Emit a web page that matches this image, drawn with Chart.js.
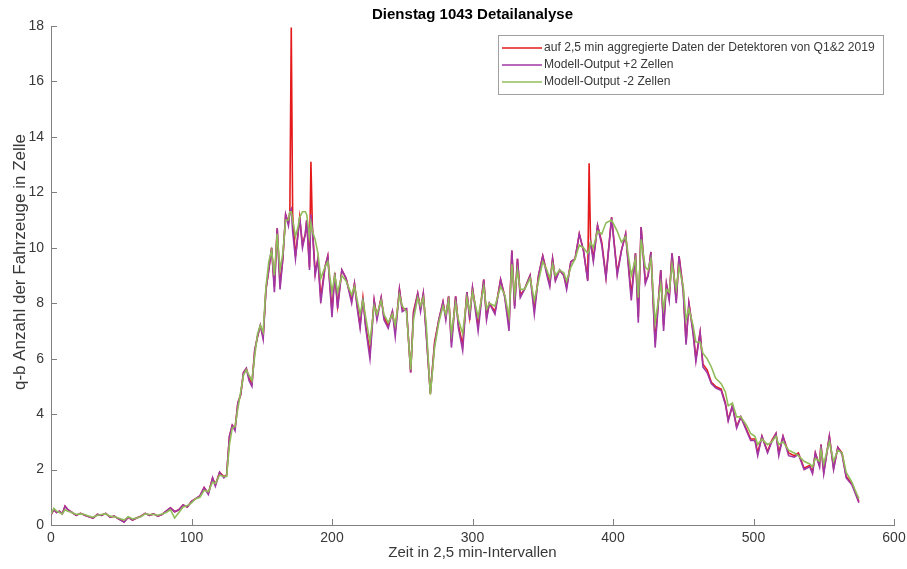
<!DOCTYPE html>
<html>
<head>
<meta charset="utf-8">
<title>Dienstag 1043 Detailanalyse</title>
<script src="https://cdn.jsdelivr.net/npm/chart.js@4"></script>
<style>
  html, body { margin: 0; padding: 0; background: #fff; }
  #detailChart { display: block; }
</style>
</head>
<body>
<canvas id="detailChart" width="907" height="569"></canvas>
<script>
// Time axis: index of the 2.5 min interval
const intervals = [
  0, 2, 4, 6, 8, 10, 12, 15, 18, 21, 24, 27, 30, 33, 36, 39, 42, 45, 48, 52, 55, 58, 61, 64, 67, 70, 73, 76, 79, 82, 85, 88, 91, 94, 97, 100,
  103, 106, 109, 112, 115, 117, 120, 123, 125, 127, 129, 131, 133, 135, 137, 139, 141, 143, 145, 147, 149, 151, 153, 155, 157, 159, 161, 163, 165, 167, 169,
  170, 171, 172, 174, 176, 177, 179, 181, 182, 184, 185, 186, 188, 190, 192, 195, 197, 200,
  202, 204, 207, 210, 214, 216, 218, 220, 222, 224, 227, 230, 232, 235, 237, 240, 243, 245, 248, 250, 253, 256, 258, 261, 263, 265, 267, 270, 273, 276, 279, 281, 283, 285, 288, 290, 293, 296, 298, 300,
  304, 308, 310, 312, 316, 320, 323, 326, 328, 330, 332, 334, 337, 341, 344, 347, 350, 353, 355, 357, 359, 362, 365, 367, 370, 373, 376, 379, 382, 383, 384, 386, 389, 392, 395, 399,
  403, 406, 409, 413, 416, 418, 420, 423, 425, 427, 430, 434, 436, 438, 440, 442, 445, 447, 450, 452, 454, 457, 459, 462, 464, 467, 470, 473, 477, 480, 482, 485, 488, 491, 495, 498,
  501, 503, 506, 510, 513, 516, 518, 521, 525, 529, 532, 536, 540, 542, 544, 547, 548, 550, 554, 557, 560, 563, 566, 570, 572, 575
];

// Detector data (Q1&2 2019), aggregated to 2.5 min
const measured = [
  0.38, 0.55, 0.45, 0.5, 0.4, 0.68, 0.55, 0.45, 0.35, 0.42, 0.35, 0.3, 0.25, 0.38, 0.35, 0.42, 0.28, 0.32, 0.22, 0.12, 0.28, 0.18, 0.25, 0.32, 0.42, 0.35, 0.4, 0.32, 0.38, 0.5, 0.62, 0.48, 0.55, 0.72, 0.65, 0.85,
  0.95, 1.05, 1.35, 1.15, 1.7, 1.45, 1.9, 1.75, 1.8, 3.2, 3.6, 3.5, 4.4, 4.7, 5.5, 5.65, 5.3, 5.1, 6.3, 6.8, 7.2, 6.8, 8.5, 9.2, 10.0, 8.6, 10.7, 8.7, 9.6, 11.2, 10.9,
  11.3, 17.95, 11.2, 9.7, 10.6, 11.1, 10.1, 10.5, 11.0, 9.3, 13.1, 10.8, 9.1, 9.6, 8.2, 9.3, 9.7, 7.7,
  9.1, 7.9, 9.2, 8.9, 8.1, 8.7, 7.9, 7.2, 8.2, 7.2, 6.2, 8.1, 7.5, 8.2, 7.5, 7.2, 7.7, 7.0, 8.5, 7.8, 7.8, 5.5, 7.7, 8.35, 7.8, 8.35, 7.0, 4.75, 6.6, 7.4, 8.05, 7.5, 8.25, 6.6, 8.25, 7.2, 6.5, 8.4, 7.5, 8.55,
  7.2, 8.85, 7.5, 8.0, 7.7, 8.85, 8.25, 7.2, 9.9, 7.9, 9.6, 8.3, 8.5, 9.0, 7.8, 9.0, 9.7, 9.1, 8.7, 9.6, 8.85, 9.2, 9.0, 8.6, 9.5, 9.6, 10.5, 9.9, 8.85, 13.05, 10.3, 9.6, 10.8, 10.2, 8.95, 11.1,
  9.1, 9.9, 10.5, 8.3, 9.8, 7.5, 10.75, 8.8, 9.0, 9.85, 6.6, 9.2, 7.2, 8.7, 8.2, 9.8, 8.1, 9.7, 8.5, 6.6, 8.0, 7.0, 6.0, 6.95, 5.8, 5.6, 5.15, 5.0, 4.9, 4.4, 3.8, 4.3, 3.55, 3.9, 3.45, 3.1,
  3.1, 2.6, 3.2, 2.65, 3.05, 3.3, 2.6, 3.2, 2.6, 2.5, 2.6, 2.05, 2.15, 1.9, 2.6, 2.15, 2.9, 1.9, 3.2, 2.05, 2.8, 2.6, 1.75, 1.5, 1.25, 0.85
];

// Model output, detector position shifted +2 cells
const modelPlus2 = [
  0.38, 0.55, 0.45, 0.5, 0.4, 0.68, 0.55, 0.45, 0.35, 0.42, 0.35, 0.3, 0.25, 0.38, 0.35, 0.42, 0.28, 0.32, 0.22, 0.1, 0.28, 0.18, 0.25, 0.32, 0.42, 0.35, 0.4, 0.32, 0.38, 0.5, 0.62, 0.48, 0.55, 0.72, 0.65, 0.85,
  0.95, 1.05, 1.35, 1.1, 1.7, 1.4, 1.9, 1.7, 1.8, 3.2, 3.6, 3.4, 4.4, 4.7, 5.5, 5.65, 5.2, 5.0, 6.3, 6.8, 7.2, 6.7, 8.5, 9.2, 10.0, 8.4, 10.7, 8.5, 9.6, 11.2, 10.8,
  11.3, 11.4, 10.6, 9.6, 10.6, 11.1, 10.0, 10.5, 11.0, 9.2, 11.2, 10.7, 9.0, 9.6, 8.0, 9.3, 9.7, 7.5,
  9.1, 7.8, 9.2, 8.9, 8.0, 8.7, 7.8, 7.1, 8.2, 7.1, 6.0, 8.1, 7.4, 8.2, 7.4, 7.1, 7.7, 6.8, 8.5, 7.7, 7.8, 5.5, 7.6, 8.35, 7.7, 8.35, 6.9, 4.75, 6.5, 7.4, 8.05, 7.4, 8.25, 6.4, 8.25, 7.1, 6.3, 8.4, 7.4, 8.55,
  7.0, 8.85, 7.4, 8.0, 7.6, 8.85, 8.2, 7.0, 9.9, 7.8, 9.6, 8.2, 8.5, 9.0, 7.6, 9.0, 9.7, 9.0, 8.6, 9.6, 8.8, 9.2, 9.0, 8.5, 9.5, 9.6, 10.5, 9.9, 8.8, 9.9, 10.2, 9.5, 10.8, 10.1, 8.9, 11.1,
  9.0, 9.9, 10.5, 8.1, 9.8, 7.3, 10.75, 8.7, 9.0, 9.85, 6.4, 9.2, 7.0, 8.7, 8.1, 9.8, 8.0, 9.7, 8.4, 6.5, 8.0, 6.9, 5.9, 6.95, 5.7, 5.5, 5.1, 4.95, 4.85, 4.35, 3.75, 4.3, 3.5, 3.9, 3.4, 3.05,
  3.05, 2.5, 3.2, 2.6, 3.0, 3.3, 2.5, 3.2, 2.5, 2.45, 2.55, 2.0, 2.1, 1.85, 2.6, 2.1, 2.9, 1.85, 3.2, 2.0, 2.8, 2.55, 1.7, 1.45, 1.2, 0.8
];

// Model output, detector position shifted -2 cells
const modelMinus2 = [
  0.4, 0.6, 0.5, 0.45, 0.4, 0.55, 0.5, 0.45, 0.38, 0.4, 0.38, 0.32, 0.28, 0.35, 0.38, 0.4, 0.32, 0.3, 0.25, 0.18, 0.3, 0.22, 0.25, 0.3, 0.4, 0.38, 0.38, 0.35, 0.4, 0.45, 0.55, 0.25, 0.45, 0.65, 0.7, 0.8,
  0.95, 1.0, 1.25, 1.2, 1.55, 1.5, 1.8, 1.75, 1.75, 2.9, 3.5, 3.55, 4.2, 4.8, 5.4, 5.6, 5.4, 5.2, 6.1, 6.9, 7.2, 6.95, 8.6, 9.5, 9.9, 9.0, 10.5, 9.2, 9.8, 11.0, 11.0,
  11.3, 11.3, 11.0, 10.4, 10.8, 11.1, 11.3, 11.3, 11.2, 10.4, 10.9, 10.6, 10.3, 9.8, 8.9, 9.3, 9.5, 8.4,
  9.0, 8.4, 9.0, 8.8, 8.3, 8.6, 8.1, 7.6, 8.1, 7.5, 6.6, 7.9, 7.6, 8.1, 7.6, 7.3, 7.6, 7.2, 8.3, 7.9, 7.7, 5.6, 7.4, 8.2, 7.9, 8.2, 7.3, 4.7, 6.4, 7.3, 7.9, 7.6, 8.1, 6.9, 8.0, 7.4, 6.9, 8.2, 7.7, 8.4,
  7.5, 8.6, 7.8, 8.0, 7.9, 8.6, 8.3, 7.5, 9.4, 8.3, 9.2, 8.5, 8.5, 8.9, 8.1, 8.8, 9.5, 9.2, 8.9, 9.4, 9.0, 9.2, 9.1, 8.8, 9.3, 9.6, 10.1, 10.0, 9.8, 9.9, 10.2, 10.0, 10.6, 10.5, 10.9, 11.0,
  10.6, 10.2, 10.4, 9.0, 9.6, 8.2, 10.3, 9.3, 9.2, 9.6, 7.3, 8.7, 7.8, 8.5, 8.4, 9.4, 8.5, 9.3, 8.6, 7.4, 7.8, 7.2, 6.6, 6.6, 6.2, 6.0, 5.7, 5.3, 5.1, 4.8, 4.3, 4.4, 3.9, 3.9, 3.6, 3.3,
  3.2, 2.9, 3.1, 2.9, 3.0, 3.2, 2.9, 3.0, 2.7, 2.6, 2.5, 2.3, 2.2, 2.1, 2.4, 2.3, 2.7, 2.2, 3.0, 2.3, 2.7, 2.6, 1.9, 1.55, 1.3, 0.95
];

const seriesLabels = [
  'auf 2,5 min aggregierte Daten der Detektoren von Q1&2 2019',
  'Modell-Output +2 Zellen',
  'Modell-Output -2 Zellen'
];
const chartTitle = 'Dienstag 1043 Detailanalyse';
const xAxisLabel = 'Zeit in 2,5 min-Intervallen';
const yAxisLabel = 'q-b Anzahl der Fahrzeuge in Zelle';
const xTicks = [0, 100, 200, 300, 400, 500, 600];
const yTicks = [0, 2, 4, 6, 8, 10, 12, 14, 16, 18];

const FONT = '"Liberation Sans", Arial, sans-serif';
const axisColor = '#808080';
const textColor = '#383838';

function toPoints(values) {
  return values.map((v, i) => ({ x: intervals[i], y: v }));
}

// MATLAB-like decorations: inward ticks, title, y label and boxed legend
const figureDecor = {
  id: 'figureDecor',
  afterDraw(chart) {
    const { ctx, chartArea: area, scales: { x, y } } = chart;
    ctx.save();

    ctx.strokeStyle = axisColor;
    ctx.lineWidth = 1;
    ctx.beginPath();
    xTicks.forEach(v => {
      const px = Math.round(x.getPixelForValue(v)) + 0.5;
      ctx.moveTo(px, area.bottom);
      ctx.lineTo(px, area.bottom - 6);
    });
    yTicks.forEach(v => {
      const py = Math.round(y.getPixelForValue(v)) + 0.5;
      ctx.moveTo(area.left, py);
      ctx.lineTo(area.left + 6, py);
    });
    ctx.stroke();

    ctx.fillStyle = '#000';
    ctx.font = 'bold 15px ' + FONT;
    ctx.textAlign = 'center';
    ctx.textBaseline = 'middle';
    ctx.fillText(chartTitle, (area.left + area.right) / 2, 15);

    ctx.fillStyle = textColor;
    ctx.font = '17px ' + FONT;
    ctx.translate(20, 262);
    ctx.rotate(-Math.PI / 2);
    ctx.fillText(yAxisLabel, 0, 0);
    ctx.setTransform(1, 0, 0, 1, 0, 0);

    // legend box in the upper right corner of the plot
    const boxRight = area.right - 11;
    const boxLeft = boxRight - 385;
    const boxTop = area.top + 9;
    const rowH = 17;
    ctx.fillStyle = '#fff';
    ctx.fillRect(boxLeft, boxTop, boxRight - boxLeft, rowH * 3 + 8);
    ctx.strokeStyle = '#a0a0a0';
    ctx.strokeRect(boxLeft + 0.5, boxTop + 0.5, boxRight - boxLeft, rowH * 3 + 8);
    ctx.font = '12.1px ' + FONT;
    ctx.textAlign = 'left';
    chart.data.datasets.forEach((ds, i) => {
      const cy = boxTop + 13 + i * rowH;
      ctx.strokeStyle = ds.borderColor;
      ctx.lineWidth = 1.5;
      ctx.beginPath();
      ctx.moveTo(boxLeft + 4, cy);
      ctx.lineTo(boxLeft + 44, cy);
      ctx.stroke();
      ctx.fillStyle = textColor;
      ctx.fillText(ds.label, boxLeft + 46, cy);
    });

    ctx.restore();
  }
};

const ctx = document.getElementById('detailChart').getContext('2d');
const detailChart = new Chart(ctx, {
  type: 'line',
  data: {
    datasets: [
      { label: seriesLabels[0], data: toPoints(measured), borderColor: 'rgb(228,26,28)', order: 2 },
      { label: seriesLabels[1], data: toPoints(modelPlus2), borderColor: 'rgb(160,55,165)', order: 1 },
      { label: seriesLabels[2], data: toPoints(modelMinus2), borderColor: 'rgb(145,188,90)', order: 0 }
    ]
  },
  options: {
    responsive: false,
    animation: false,
    layout: { padding: { top: 26, right: 13, left: 0, bottom: 0 } },
    elements: {
      point: { radius: 0 },
      line: { borderWidth: 1.6, tension: 0 }
    },
    plugins: {
      legend: { display: false },
      tooltip: { enabled: false },
      title: { display: false }
    },
    scales: {
      x: {
        type: 'linear',
        min: 0,
        max: 600,
        afterBuildTicks: s => { s.ticks = xTicks.map(v => ({ value: v })); },
        afterFit: s => { s.height = 44; s.paddingLeft = 0; s.paddingRight = 0; },
        ticks: { color: textColor, padding: 5, font: { family: FONT, size: 14 } },
        grid: { display: false, drawTicks: false },
        border: { color: axisColor, width: 1 },
        title: {
          display: true,
          text: xAxisLabel,
          color: textColor,
          font: { family: FONT, size: 15 },
          padding: { top: 0, bottom: 7 }
        }
      },
      y: {
        min: 0,
        max: 18,
        afterBuildTicks: s => { s.ticks = yTicks.map(v => ({ value: v })); },
        afterFit: s => { s.width = 51; s.paddingTop = 0; s.paddingBottom = 0; },
        ticks: { color: textColor, padding: 7, font: { family: FONT, size: 14 } },
        grid: { display: false, drawTicks: false },
        border: { color: axisColor, width: 1 }
      }
    }
  },
  plugins: [figureDecor]
});
</script>
</body>
</html>
